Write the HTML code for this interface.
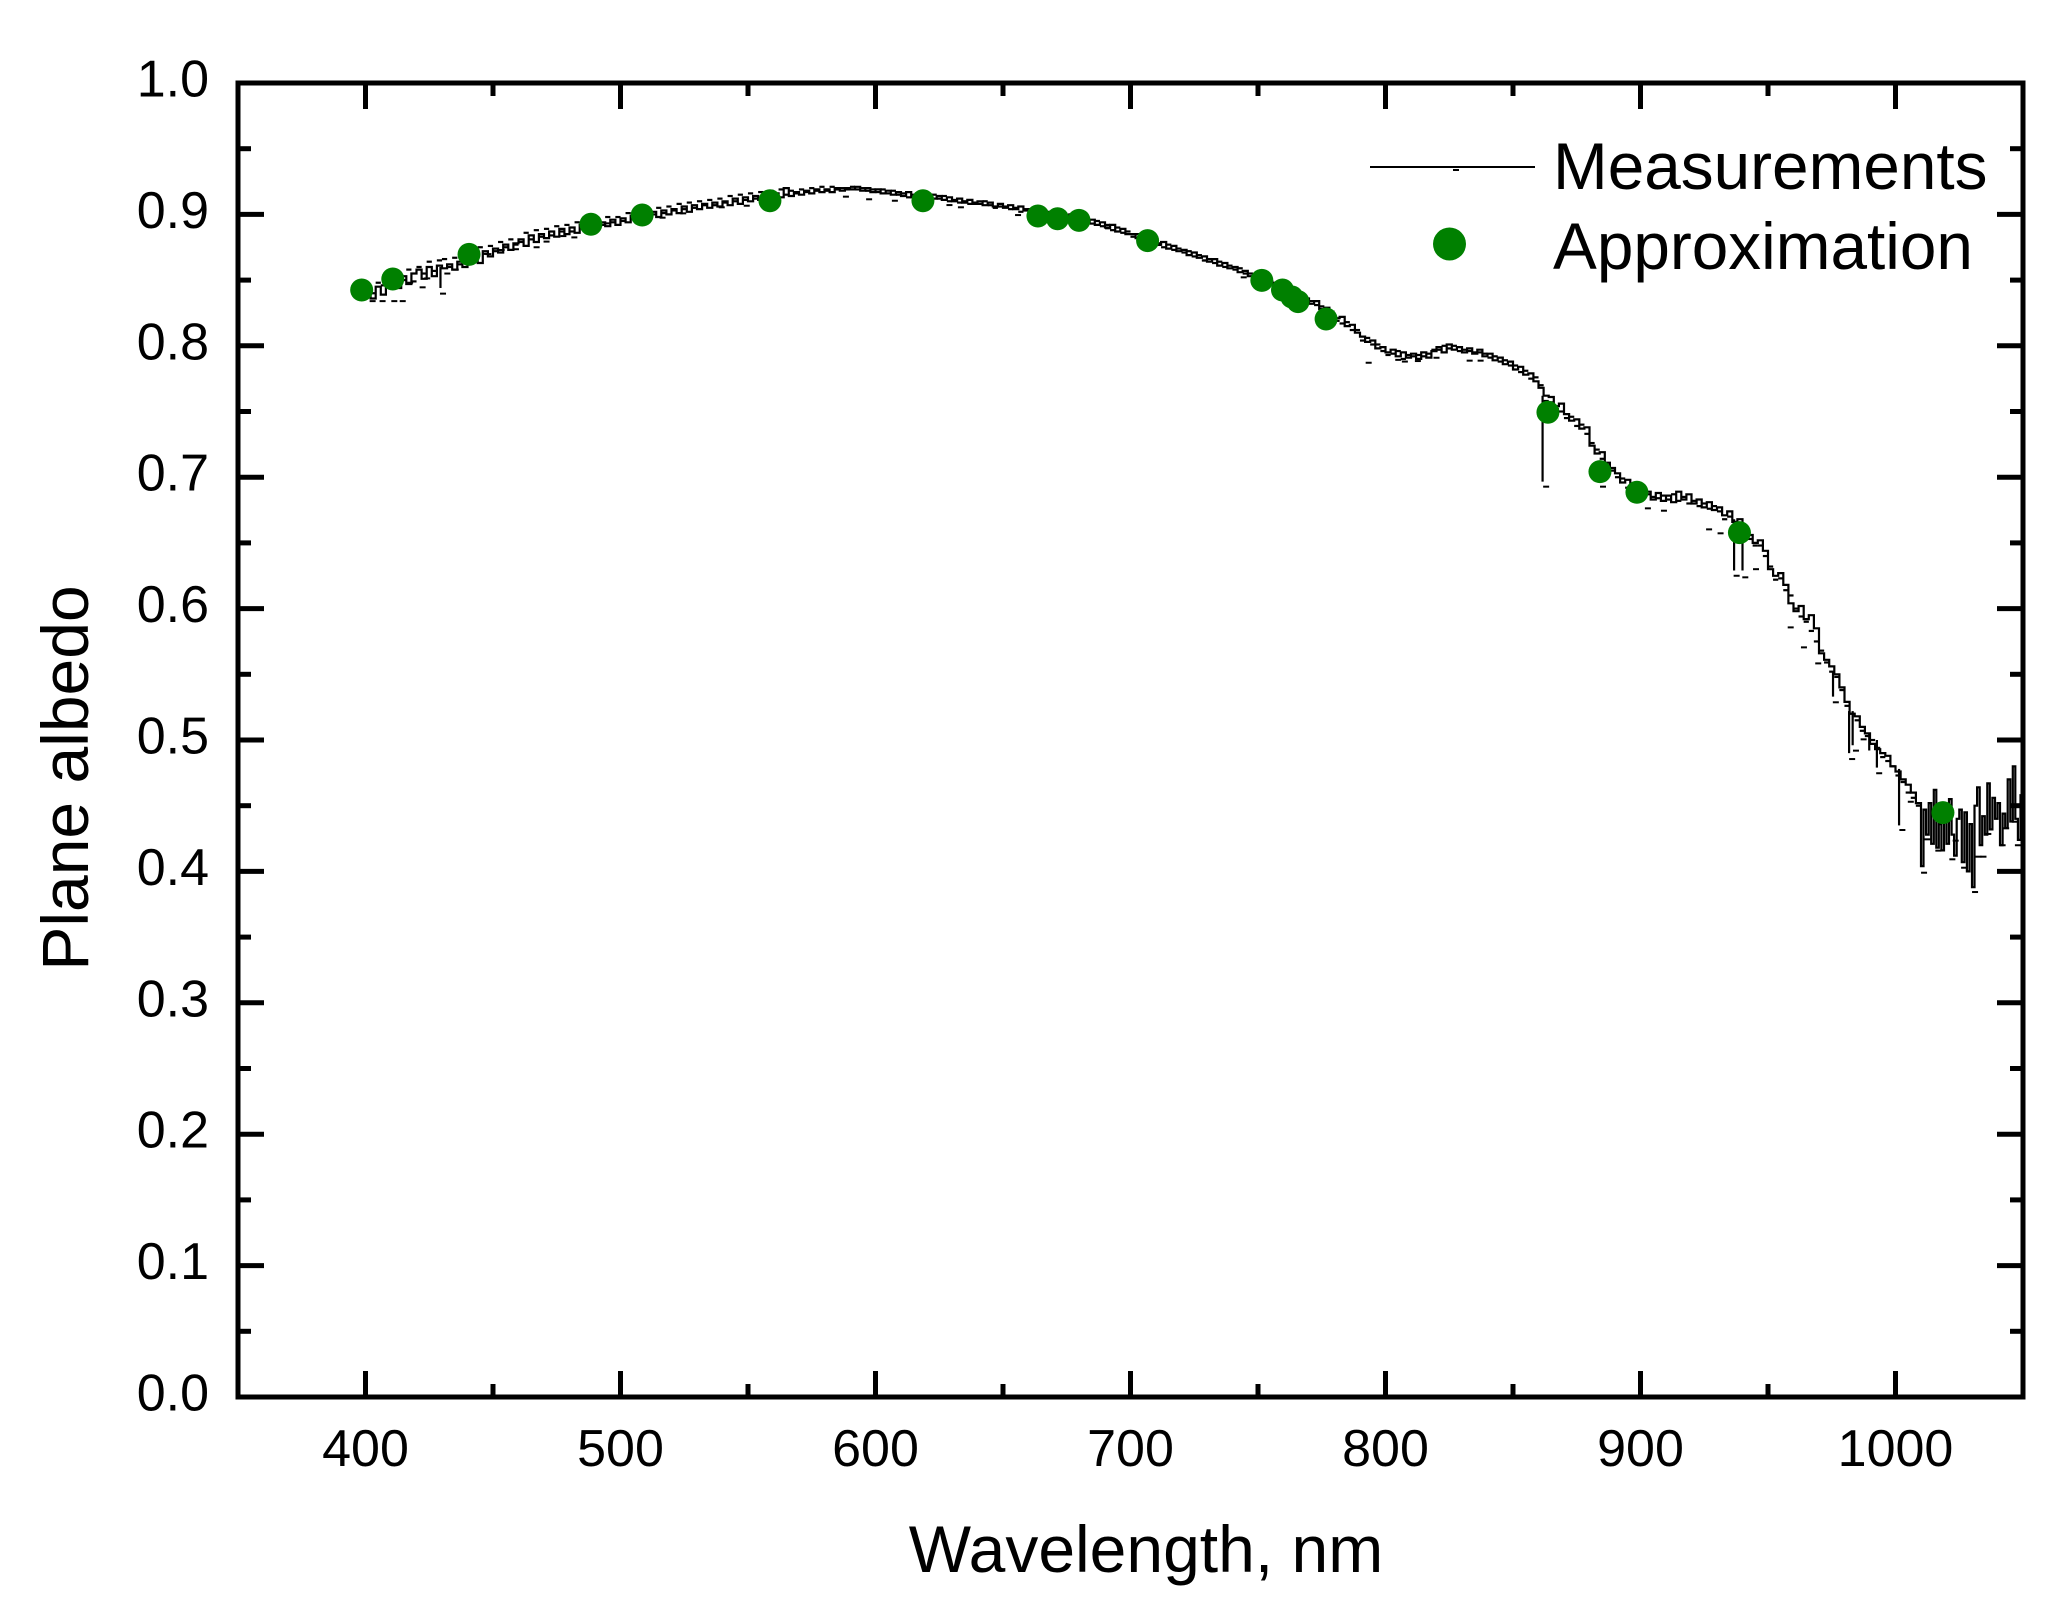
<!DOCTYPE html>
<html lang="en">
<head>
<meta charset="utf-8">
<title>Plane albedo vs wavelength</title>
<style>
html,body{margin:0;padding:0;background:#fff;}
svg{display:block;}
text{font-family:"Liberation Sans",Arial,sans-serif;fill:#000;}
</style>
</head>
<body>
<svg id="chart" xmlns="http://www.w3.org/2000/svg" width="2067" height="1617" viewBox="0 0 2067 1617">
  <rect x="0" y="0" width="2067" height="1617" fill="#fff"/>
  <g id="ticks"></g>
  <g id="tick-labels"></g>
  <g id="series"></g>
  <g id="points"></g>
  <rect x="238" y="83" width="1785" height="1314" fill="none" stroke="#000" stroke-width="5"/>
  <text x="1146" y="1572" font-size="66" text-anchor="middle">Wavelength, nm</text>
  <text transform="translate(88,778) rotate(-90)" font-size="66" text-anchor="middle">Plane albedo</text>
  <g>
    <line x1="1370" y1="167" x2="1535" y2="167" stroke="#000" stroke-width="2"/>
    <rect x="1453" y="169" width="6" height="2" fill="#000"/>
    <text x="1553" y="189" font-size="65.7">Measurements</text>
    <circle cx="1449.5" cy="244" r="16.5" fill="#008000"/>
    <text x="1553" y="269" font-size="65.7">Approximation</text>
  </g>
</svg>
<script>
// ---- chart data ----
const xMajorTicks = [400, 500, 600, 700, 800, 900, 1000];
const xMinorTicks = [450, 550, 650, 750, 850, 950];
const xTickLabels = ["400", "500", "600", "700", "800", "900", "1000"];
const yMajorTicks = [0, 0.1, 0.2, 0.3, 0.4, 0.5, 0.6, 0.7, 0.8, 0.9, 1.0];
const yMinorTicks = [0.05, 0.15, 0.25, 0.35, 0.45, 0.55, 0.65, 0.75, 0.85, 0.95];
const yTickLabels = ["0.0", "0.1", "0.2", "0.3", "0.4", "0.5", "0.6", "0.7", "0.8", "0.9", "1.0"];

const approximationWavelengths = [398.5, 410.7, 440.6, 488.4, 508.5, 558.6, 618.6, 663.7, 671.4, 679.8, 706.7, 751.5, 759.6, 763.3, 765.7, 776.7, 863.7, 884.1, 898.6, 938.8, 1018.6];
const approximationAlbedo = [0.8425, 0.8508, 0.8696, 0.8925, 0.8995, 0.9104, 0.9104, 0.8988, 0.8967, 0.8955, 0.8800, 0.8498, 0.8425, 0.8371, 0.8336, 0.8204, 0.7494, 0.7042, 0.6885, 0.6578, 0.4447];

const measurementWavelengths = [398,
400,402,404,406,408, 410,412,414,416,418, 420,422,424,426,428, 430,432,434,436,438,
440,442,444,446,448, 450,452,454,456,458, 460,462,464,466,468, 470,472,474,476,478,
480,482,484,486,488, 490,492,494,496,498, 500,502,504,506,508, 510,512,514,516,518,
520,522,524,526,528, 530,532,534,536,538, 540,542,544,546,548, 550,552,554,556,558,
560,562,564,566,568, 570,572,574,576,578, 580,582,584,586,588, 590,592,594,596,598,
600,602,604,606,608, 610,612,614,616,618, 620,622,624,626,628, 630,632,634,636,638,
640,642,644,646,648, 650,652,654,656,658, 660,662,664,666,668, 670,672,674,676,678,
680,682,684,686,688, 690,692,694,696,698, 700,702,704,706,708, 710,712,714,716,718,
720,722,724,726,728, 730,732,734,736,738, 740,742,744,746,748, 750,752,754,756,758,
760,762,764,766,768, 770,772,774,776,778, 780,782,784,786,788, 790,792,794,796,798,
800,802,804,806,808, 810,812,814,816,818, 820,822,824,826,828, 830,832,834,836,838,
840,842,844,846,848, 850,852,854,856,858, 860,862,864,866,868, 870,872,874,876,878,
880,882,884,886,888, 890,892,894,896,898, 900,902,904,906,908, 910,912,914,916,918,
920,922,924,926,928, 930,932,934,936,938, 940,942,944,946,948, 950,952,954,956,958,
960,962,964,966,968, 970,972,974,976,978, 980,982,984,986,988, 990,992,994,996,998,
1000,1002,1004,1006,1008,
1010,1011,1012,1013,1014,1015,1016,1017,1018,1019,1020,1021,1022,1023,1024,1025,1026,1027,1028,1029,
1030,1031,1032,1033,1034,1035,1036,1037,1038,1039,1040,1041,1042,1043,1044,1045,1046,1047,1048,1049,1050];

const measurementAlbedo = [.838,
.842,.836,.845,.839,.848, .850,.844,.853,.847,.855, .858,.851,.860,.853,.861, .859,.862,.858,.864,.860,
.866,.869,.863,.872,.868, .874,.871,.877,.873,.878, .881,.876,.884,.879,.885, .882,.887,.883,.889,.885,
.890,.886,.892,.888,.893, .890,.894,.891,.896,.892, .897,.894,.899,.895,.900, .897,.902,.898,.903,.900,
.904,.901,.906,.902,.907, .904,.908,.905,.909,.906, .910,.907,.912,.908,.913, .910,.914,.911,.915,.912,
.916,.913,.920,.914,.917, .915,.918,.916,.919,.917, .919,.917,.920,.918,.920, .919,.921,.918,.920,.917,
.919,.916,.918,.915,.917, .914,.917,.913,.916,.912, .915,.912,.914,.911,.913, .910,.912,.909,.911,.908,
.910,.907,.909,.906,.908, .905,.907,.904,.906,.903, .904,.901,.903,.900,.902, .899,.901,.897,.900,.896,
.897,.894,.896,.892,.894, .890,.892,.887,.889,.885, .885,.882,.884,.880,.881, .877,.879,.874,.876,.872,
.873,.869,.871,.867,.868, .864,.866,.861,.863,.859, .860,.856,.857,.853,.854, .850,.851,.847,.848,.844,
.845,.840,.841,.837,.836, .832,.834,.828,.829,.824, .821,.822,.815,.816,.810, .807,.803,.804,.798,.799,
.795,.797,.792,.795,.791, .794,.790,.795,.791,.796, .799,.795,.801,.797,.799, .795,.798,.794,.797,.792,
.794,.789,.791,.786,.788, .782,.784,.778,.779,.773, .768,.762,.761,.754,.756, .748,.743,.744,.737,.738,
.724,.718,.719,.711,.707, .703,.696,.698,.690,.693, .686,.689,.683,.688,.682, .686,.681,.689,.683,.687,
.680,.683,.677,.681,.675, .677,.671,.674,.666,.668, .658,.656,.650,.652,.644, .630,.625,.627,.618,.604,
.598,.602,.592,.595,.585, .566,.561,.556,.550,.540, .529,.520,.518,.510,.505, .497,.493,.490,.488,.480,
.476,.470,.466,.460,.452,
.404,.447,.428,.452,.421,.462,.418,.436,.416,.444,.421,.455,.428,.412,.440,.447,.407,.445,.400,.436,
.388,.450,.464,.420,.442,.428,.467,.432,.456,.440,.452,.420,.444,.433,.470,.438,.480,.440,.424,.458,.445];

// readings that sit between the trace steps: short detached dashes
const scatterWavelengths = [
401,403,405,407,409, 411,413,415,417,419, 421,423,425,427,429, 431,433,435,437,439,
441,443,445,447,449, 451,453,455,457,459, 461,463,465,467,469, 471,473,475,477,479,
481,483,485,487,489, 491,493,495,497,499, 501,503,505,507,509, 511,513,515,517,519,
521,523,525,527,529, 531,533,535,537,539, 541,543,545,547,549, 551,553,555,557,559,
561,563,565,567,569, 571,573,575,577,579, 581,583,585,587,589, 591,593,595,597,599,
601,603,605,607,609, 611,613,615,617,619, 621,623,625,627,629, 631,633,635,637,639,
641,643,645,647,649, 651,653,655,657,659, 661,663,665,667,669, 671,673,675,677,679,
681,683,685,687,689, 691,693,695,697,699, 701,703,705,707,709, 711,713,715,717,719,
721,723,725,727,729, 731,733,735,737,739, 741,743,745,747,749, 751,753,755,757,759,
761,763,765,767,769, 771,773,775,777,779, 781,783,785,787,789, 791,793,795,797,799,
801,803,805,807,809, 811,813,815,817,819, 821,823,825,827,829, 831,833,835,837,839,
841,843,845,847,849, 851,853,855,857,859, 861,863,865,867,869, 871,873,875,877,879,
881,883,885,887,889, 891,893,895,897,899, 901,903,905,907,909, 911,913,915,917,919,
921,923,925,927,929, 931,933,935,937,939, 941,943,945,947,949, 951,953,955,957,959,
961,963,965,967,969, 971,973,975,977,979, 981,983,985,987,989, 991,993,995,997,999,
1001,1003,1005,1007,1009];
const scatterAlbedo = [
.844,.840,.848,.846,.851, .848,.856,.850,.858,.849, .860,.855,.864,.857,.865, .866,.860,.867,.862,.869,
.871,.866,.875,.870,.876, .872,.879,.875,.881,.877, .879,.886,.881,.888,.883, .889,.884,.891,.887,.892,
.887,.894,.890,.895,.889, .896,.892,.898,.894,.898, .895,.901,.897,.902,.898, .904,.900,.905,.901,.906,
.903,.908,.904,.909,.905, .910,.907,.911,.907,.912, .909,.914,.910,.915,.911, .916,.912,.917,.913,.918,
.914,.919,.915,.918,.916, .919,.917,.920,.918,.921, .918,.921,.919,.920,.919, .921,.919,.920,.918,.919,
.917,.919,.916,.918,.915, .916,.913,.915,.912,.914, .913,.915,.912,.914,.910, .911,.909,.910,.908,.909,
.908,.910,.907,.905,.906, .906,.904,.905,.902,.904, .902,.904,.901,.899,.900, .901,.898,.899,.895,.897,
.895,.897,.893,.895,.891, .892,.888,.890,.886,.887, .883,.885,.881,.883,.878, .878,.875,.877,.873,.874,
.871,.872,.868,.869,.865, .866,.863,.864,.860,.861, .858,.859,.855,.855,.851, .852,.849,.849,.845,.846,
.842,.843,.838,.838,.834, .834,.831,.830,.826,.826, .819,.817,.818,.812,.812, .804,.806,.801,.801,.796,
.793,.794,.796,.790,.793, .792,.793,.792,.794,.797, .797,.800,.798,.800,.796, .797,.796,.795,.795,.794,
.791,.792,.788,.789,.785, .785,.780,.781,.775,.776, .770,.758,.757,.752,.750, .745,.746,.739,.740,.733,
.726,.721,.714,.709,.705, .700,.699,.692,.694,.688, .684,.687,.685,.684,.686, .683,.687,.682,.685,.680,
.682,.678,.680,.676,.678, .674,.668,.670,.664,.664, .657,.653,.648,.648,.640, .632,.622,.623,.614,.610,
.600,.594,.590,.583,.575, .568,.559,.552,.548,.538, .526,.520,.515,.507,.503, .500,.494,.487,.484,.480,
.473,.468,.460,.456,.450];

// narrow downward spikes
const spikeWavelengths = [429.4, 861.6, 936.7, 940, 975.5, 981.8, 983.2, 989.7, 992.7, 1001.4];
const spikeLow = [.844, .6966, .629, .629, .533, .490, .496, .492, .479, .435];
const spikeHigh = [.860, .762, .668, .658, .552, .522, .522, .505, .500, .478];

const dashWavelengths = [402.8,406.7,411.3,414.6,417.5,422.4,424.2,430.4,432.1,435.4,448.2,453.4,459,467.1,471,477.6,481.9,494.6,516.5,524.6,539.7,549.5,588.4,597.5,607.6,629,633.5,655.9,691.2,711,729.2,744.4,793.4,805,807.6,812.7,820,833,837.3,863,885.3,902.9,909.2,926.9,931.4,937.7,941.1,945.3,958.9,964.1,969.7,976.6,983,984.5,987.5,993.6,1002.7,1006,1011.2,1012.5,1016.8,1022.3,1023.6,1026.9,1031.2,1032.5,1034.5,1036.4,1042,1043.4,1046.8,1048];
const dashAlbedo = [.834,.834,.834,.834,.848,.8445,.8513,.8397,.855,.858,.8698,.8729,.8735,.875,.8793,.8835,.8825,.8932,.8975,.9008,.9054,.9066,.9135,.9115,.9104,.9071,.9054,.8995,.8894,.8767,.8648,.8521,.7871,.7893,.788,.7884,.7909,.7887,.7887,.6928,.6928,.6763,.6745,.6603,.6573,.625,.6238,.63,.5857,.5705,.5583,.5287,.4855,.4919,.5005,.4747,.4315,.453,.399,.4244,.4158,.4092,.4234,.4028,.3843,.4112,.4112,.4285,.4199,.4328,.4378,.4199];

// ---- axis functions ----
const NS = "http://www.w3.org/2000/svg";
const plot = { left: 238, right: 2023, top: 83, bottom: 1397, xMin: 350, xMax: 1050, yMin: 0, yMax: 1 };
function xScale(v) { return plot.left + (v - plot.xMin) / (plot.xMax - plot.xMin) * (plot.right - plot.left); }
function yScale(v) { return plot.bottom - (v - plot.yMin) / (plot.yMax - plot.yMin) * (plot.bottom - plot.top); }
function make(tag, attrs, parent) {
  const el = document.createElementNS(NS, tag);
  for (const k in attrs) el.setAttribute(k, attrs[k]);
  parent.appendChild(el);
  return el;
}

const ticksGroup = document.getElementById("ticks");
const labelsGroup = document.getElementById("tick-labels");
const seriesGroup = document.getElementById("series");
const pointsGroup = document.getElementById("points");

function drawXTick(v, len, width) {
  const x = xScale(v);
  const b = make("line", { x1: x, x2: x, y1: plot.bottom, y2: plot.bottom - len, stroke: "#000", "stroke-width": width }, ticksGroup);
  
  
  const t = make("line", { x1: x, x2: x, y1: plot.top, y2: plot.top + len, stroke: "#000", "stroke-width": width }, ticksGroup);
  
  
}
function drawYTick(v, len, width) {
  const y = yScale(v);
  const l = make("line", { x1: plot.left, x2: plot.left + len, y1: y, y2: y, stroke: "#000", "stroke-width": width }, ticksGroup);
  
  
  const r = make("line", { x1: plot.right, x2: plot.right - len, y1: y, y2: y, stroke: "#000", "stroke-width": width }, ticksGroup);
  
  
}
xMajorTicks.forEach(function (v) { drawXTick(v, 26, 5); });
xMinorTicks.forEach(function (v) { drawXTick(v, 13, 5); });
yMajorTicks.forEach(function (v) { drawYTick(v, 26, 5); });
yMinorTicks.forEach(function (v) { drawYTick(v, 13, 5); });

xMajorTicks.forEach(function (v, i) {
  const t = make("text", { x: xScale(v), y: 1466, "font-size": 52, "text-anchor": "middle" }, labelsGroup);
  
  
  t.textContent = xTickLabels[i];
});
yMajorTicks.forEach(function (v, i) {
  const t = make("text", { x: 209, y: yScale(v) + 13.5, "font-size": 52, "text-anchor": "end" }, labelsGroup);
  
  
  t.textContent = yTickLabels[i];
});

// measurements: stepped trace
let d = "M" + xScale(measurementWavelengths[0]).toFixed(1) + " " + yScale(measurementAlbedo[0]).toFixed(1);
for (let i = 1; i < measurementWavelengths.length; i++) {
  d += "H" + xScale(measurementWavelengths[i]).toFixed(1) + "V" + yScale(measurementAlbedo[i]).toFixed(1);
}
const trace = make("path", { d: d, fill: "none", stroke: "#000", "stroke-width": 2.2, "stroke-linejoin": "miter" }, seriesGroup);



// measurements: in-between readings as short dashes on the trace band
scatterWavelengths.forEach(function (w, i) {
  const x = xScale(w);
  const y = yScale(scatterAlbedo[i]);
  const s = make("line", { x1: x - 2.6, x2: x + 2.6, y1: y, y2: y, stroke: "#000", "stroke-width": 2.2 }, seriesGroup);
  
  
});

// measurements: narrow downward spikes
spikeWavelengths.forEach(function (w, i) {
  const x = xScale(w);
  const s = make("line", { x1: x, x2: x, y1: yScale(spikeHigh[i]), y2: yScale(spikeLow[i]), stroke: "#000", "stroke-width": 2.2 }, seriesGroup);
  
  
});

// measurements: small detached dashes under the trace
dashWavelengths.forEach(function (w, i) {
  const x = xScale(w);
  const y = yScale(dashAlbedo[i]);
  const dash = make("line", { x1: x - 3, x2: x + 3, y1: y, y2: y, stroke: "#000", "stroke-width": 2 }, seriesGroup);
  
  
});

// approximation points
approximationWavelengths.forEach(function (w, i) {
  const c = make("circle", { cx: xScale(w), cy: yScale(approximationAlbedo[i]), r: 11.5, fill: "#008000" }, pointsGroup);
  
  
});
</script>
</body>
</html>
